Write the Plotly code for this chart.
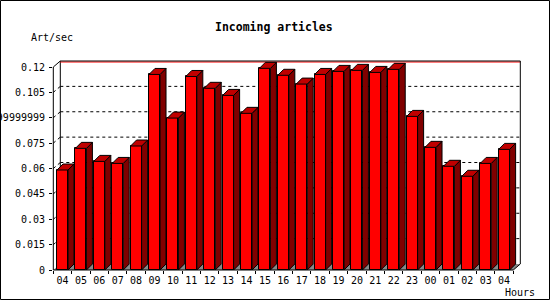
import plotly.graph_objects as go

# ---------------- data ----------------
hours = ["04", "05", "06", "07", "08", "09", "10", "11", "12", "13", "14", "15", "16",
         "17", "18", "19", "20", "21", "22", "23", "00", "01", "02", "03", "04"]
values = [0.0591, 0.0719, 0.0642, 0.0630, 0.0733, 0.1156, 0.0898, 0.1144, 0.1074,
          0.1032, 0.0926, 0.1192, 0.1151, 0.1099, 0.1156, 0.1174, 0.1180, 0.1168,
          0.1186, 0.0908, 0.0725, 0.0613, 0.0554, 0.0630, 0.0713]
ytick_vals = [0, 0.015, 0.03, 0.045, 0.06, 0.075, 0.09, 0.105, 0.12]
ytick_text = ["0", "0.015", "0.03", "0.045", "0.06", "0.075", "0.08999999999999999",
              "0.105", "0.12"]
title_text = "Incoming articles"
yunit_text = "Art/sec"
xunit_text = "Hours"

# ---------------- geometry ----------------
W, H = 550, 300
L, T, R, B = 53, 57, 26, 30
PW, PH = W - L - R, H - T - B
XPX = 18.4            # pixels per category
YPX = 203 / 0.12      # pixels per unit value
AX_X = 53.3           # pixel of x=-0.5
xr0 = -0.5 - (AX_X - L) / XPX
xr1 = xr0 + PW / XPX
yr0 = 0.0
yr1 = PH / YPX

n = len(values)
xs = list(range(n))
BW = 0.6
dx = 6 / XPX
dy = 6 / YPX
DXw = 7 / XPX
DYw = 6 / YPX
ymax = ytick_vals[-1]
xL, xR = -0.5, n - 0.5


def xp(v):
    return (v - xr0) / (xr1 - xr0)


def yp(v):
    return (v - yr0) / (yr1 - yr0)


def pxx(p):
    return (p - L) / PW


def pxy(p):
    return (H - B - p) / PH


# ---------------- faces ----------------
side_x, side_y, top_x, top_y = [], [], [], []
for x, v in zip(xs, values):
    xl, xr = x - BW / 2, x + BW / 2
    side_x += [xr, xr, xr + dx, xr + dx, xr, None]
    side_y += [0, v, v + dy, dy, 0, None]
    top_x += [xl, xl + dx, xr + dx, xr, xl, None]
    top_y += [v, v + dy, v + dy, v, v, None]

fig = go.Figure()
fig.add_trace(go.Bar(x=xs, y=values, width=BW,
                     marker=dict(color="#ff0000", line=dict(color="black", width=1)),
                     showlegend=False, hoverinfo="skip"))
fig.add_trace(go.Scatter(x=side_x, y=side_y, mode="lines", fill="toself",
                         fillcolor="#800000", line=dict(color="black", width=1),
                         showlegend=False, hoverinfo="skip"))
fig.add_trace(go.Scatter(x=top_x, y=top_y, mode="lines", fill="toself",
                         fillcolor="#c00000", line=dict(color="black", width=1),
                         showlegend=False, hoverinfo="skip"))

shapes = []


def line(x0, y0, x1, y1, color="black", dash="solid", layer="below"):
    shapes.append(dict(type="line", xref="paper", yref="paper",
                       x0=xp(x0), y0=yp(y0), x1=xp(x1), y1=yp(y1),
                       line=dict(color=color, width=1, dash=dash), layer=layer))


# floor
shapes.append(dict(type="path", xref="paper", yref="paper", layer="below",
                   path="M {} {} L {} {} L {} {} L {} {} Z".format(
                       xp(xL), yp(0), xp(xL + DXw), yp(DYw),
                       xp(xR + DXw), yp(DYw), xp(xR), yp(0)),
                   fillcolor="#888888", line=dict(width=0)))
# gridlines on back wall
for v in ytick_vals[1:-1]:
    line(xL + DXw, v + DYw, xR + DXw, v + DYw, dash="dot")
    line(xL, v, xL + DXw, v + DYw, dash="dot")
# walls / frame
line(xL, 0, xL, ymax)
line(xL, ymax, xL + DXw, ymax + DYw)
line(xL + DXw, DYw, xL + DXw, ymax + DYw)
line(xL + DXw, ymax + DYw - 1 / YPX, xR + DXw, ymax + DYw - 1 / YPX, color="#ff0000")
line(xL + DXw, ymax + DYw, xR + DXw, ymax + DYw)
line(xR + DXw, DYw, xR + DXw, ymax + DYw)
line(xL, 0, xR, 0, layer="above")
line(xR, 0, xR + DXw, DYw)
# image border
shapes.append(dict(type="rect", xref="paper", yref="paper",
                   x0=pxx(0.5), y0=pxy(0.5), x1=pxx(W - 0.5), y1=pxy(H - 0.5),
                   line=dict(color="black", width=1), layer="above"))

FONT = "DejaVu Sans Mono"
annotations = [
    dict(text="<b>" + title_text + "</b>", xref="paper", yref="paper",
         x=pxx(274), y=pxy(27), xanchor="center", yanchor="middle", showarrow=False,
         font=dict(family=FONT, size=11.5, color="black")),
    dict(text=yunit_text, xref="paper", yref="paper",
         x=pxx(29), y=pxy(37), xanchor="left", yanchor="middle", showarrow=False,
         font=dict(family=FONT, size=10, color="black")),
    dict(text=xunit_text, xref="paper", yref="paper",
         x=pxx(503), y=pxy(292), xanchor="left", yanchor="middle", showarrow=False,
         font=dict(family=FONT, size=10, color="black")),
]

fig.update_layout(
    template="none",
    width=W, height=H,
    margin=dict(l=L, r=R, t=T, b=B, pad=0),
    paper_bgcolor="white", plot_bgcolor="rgba(0,0,0,0)",
    showlegend=False,
    bargap=0,
    shapes=shapes,
    annotations=annotations,
    xaxis=dict(range=[xr0, xr1], tickmode="array", tickvals=xs, ticktext=hours,
               ticks="", showgrid=False, zeroline=False, showline=False,
               automargin=False, ticklabelstandoff=3,
               tickfont=dict(family=FONT, size=10, color="black"),
               minor=dict(tickmode="array", tickvals=[i - 0.5 for i in range(n + 1)],
                          ticks="outside", ticklen=3, tickcolor="black", showgrid=False)),
    yaxis=dict(range=[yr0, yr1], tickmode="array", tickvals=ytick_vals,
               ticktext=ytick_text, ticks="outside", ticklen=3, tickcolor="black",
               showgrid=False, zeroline=False, showline=False, automargin=False,
               ticklabelstandoff=2,
               tickfont=dict(family=FONT, size=10, color="black")),
)

fig.write_html("out.html")
